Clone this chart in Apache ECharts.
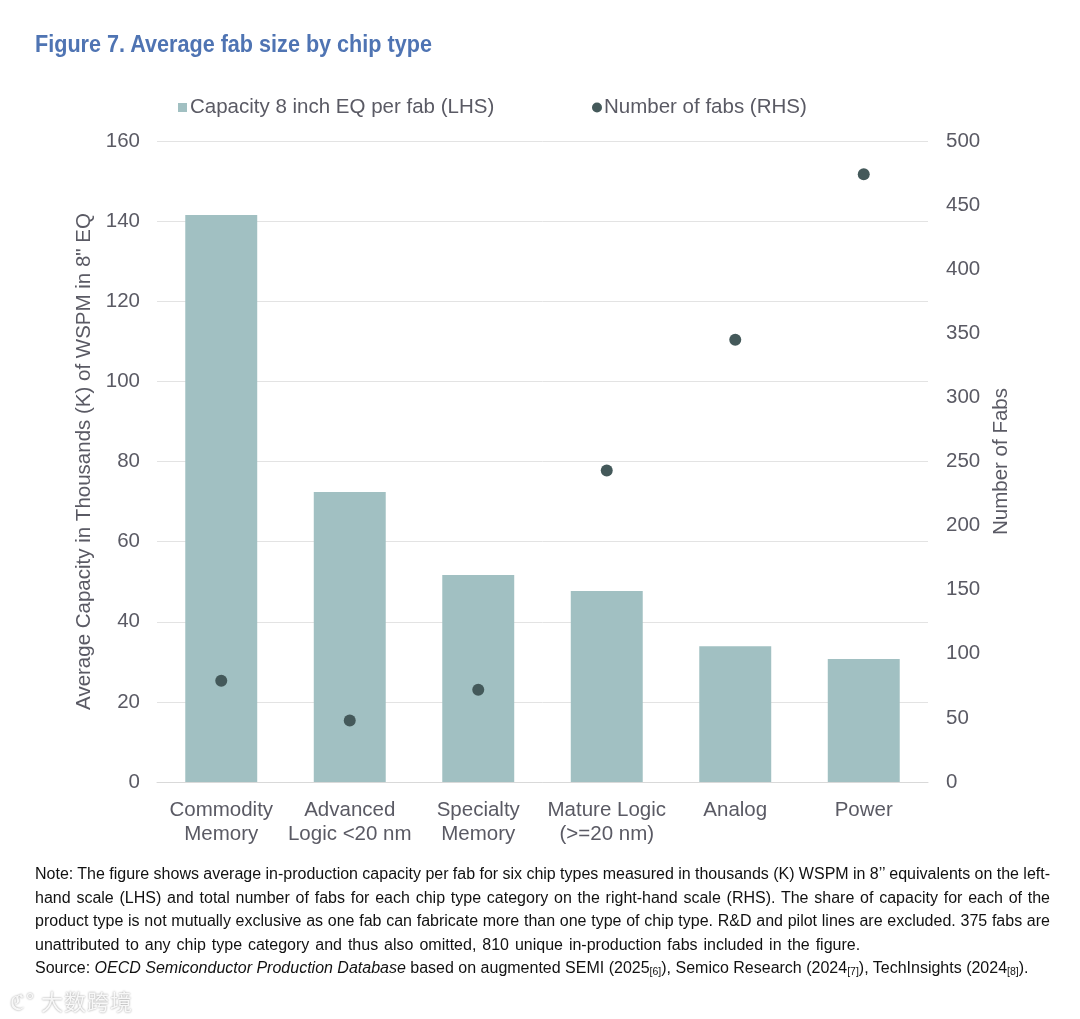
<!DOCTYPE html>
<html>
<head>
<meta charset="utf-8">
<script src="https://cdn.jsdelivr.net/npm/echarts@6/dist/echarts.min.js"></script>
<style>
html,body{margin:0;padding:0;background:#fff;}
#chart{position:absolute;left:0;top:0;width:1080px;height:1019px;}
#title{position:absolute;left:35px;top:30px;font-family:"Liberation Sans",Arial,sans-serif;font-weight:bold;font-size:24px;color:#4f74b3;transform:scaleX(0.9);transform-origin:left top;white-space:nowrap;}
#note{position:absolute;left:35px;top:862px;width:1015px;font-family:"Liberation Sans",Arial,sans-serif;font-size:16px;line-height:23.5px;color:#111;}
#note div{text-align:justify;text-align-last:justify;white-space:nowrap;}
#note div.tight{word-spacing:-1.5px;}
#note div.last{text-align-last:left;}
#note div.wide{word-spacing:1.5px;}
#note sub{font-size:10.5px;vertical-align:-2px;line-height:0;}
#wm{position:absolute;left:10px;top:984px;font-family:"Noto Sans CJK SC",sans-serif;font-size:22px;color:rgba(255,255,255,0.9);text-shadow:0 0 2px rgba(0,0,0,0.45);letter-spacing:1px;}
</style>
</head>
<body>
<div id="chart"></div>
<div id="title">Figure 7. Average fab size by chip type</div>
<div id="note">
<div class="tight">Note: The figure shows average in-production capacity per fab for six chip types measured in thousands (K) WSPM in 8’’ equivalents on the left-</div>
<div class="tight">hand scale (LHS) and total number of fabs for each chip type category on the right-hand scale (RHS). The share of capacity for each of the</div>
<div class="tight">product type is not mutually exclusive as one fab can fabricate more than one type of chip type. R&amp;D and pilot lines are excluded. 375 fabs are</div>
<div class="last wide">unattributed to any chip type category and thus also omitted, 810 unique in-production fabs included in the figure.</div>
<div class="last">Source: <i>OECD Semiconductor Production Database</i> based on augmented SEMI (2025<sub>[6]</sub>), Semico Research (2024<sub>[7]</sub>), TechInsights (2024<sub>[8]</sub>).</div>
</div>
<div id="wm">ℭ° 大数跨境</div>
<script>
const categories = ["Commodity\nMemory", "Advanced\nLogic <20 nm", "Specialty\nMemory", "Mature Logic\n(>=20 nm)", "Analog", "Power"];
const capacityPerFab = [141.5, 72.4, 51.7, 47.7, 33.9, 30.7];
const numberOfFabs = [79, 48, 72, 243, 345, 474];
const leftTicks = { min: 0, max: 160, interval: 20 };
const rightTicks = { min: 0, max: 500, interval: 50 };

const font = '"Liberation Sans", Arial, sans-serif';
const grey = '#5a5a64';
const fs = 20.5;
const chart = echarts.init(document.getElementById('chart'));
chart.setOption({
  animation: false,
  legend: [
    { data: [{ name: 'Capacity 8 inch EQ per fab (LHS)', icon: 'rect' }], left: 173, top: 92, itemWidth: 9, itemHeight: 9, itemGap: 4,
      textStyle: { fontFamily: font, fontSize: fs, color: grey, padding: [0, 0, 0, -2] } },
    { data: [{ name: 'Number of fabs (RHS)', icon: 'circle' }], left: 587, top: 92, itemWidth: 10, itemHeight: 10,
      textStyle: { fontFamily: font, fontSize: fs, color: grey, padding: [0, 0, 0, -3] } }
  ],
  grid: { left: 157, right: 152, top: 141, bottom: 237, containLabel: false },
  xAxis: {
    type: 'category', data: categories,
    axisLine: { show: true, lineStyle: { color: '#d9d9d9', width: 1 } },
    axisTick: { show: false },
    axisLabel: { fontFamily: font, fontSize: fs, color: grey, margin: 16, lineHeight: 24, interval: 0 }
  },
  yAxis: [
    { type: 'value', min: leftTicks.min, max: leftTicks.max, interval: leftTicks.interval,
      name: 'Average Capacity in Thousands (K) of WSPM in 8" EQ', nameLocation: 'middle', nameGap: 48, nameRotate: 90,
      nameTextStyle: { fontFamily: font, fontSize: fs, color: grey },
      axisLine: { show: false }, axisTick: { show: false },
      axisLabel: { fontFamily: font, fontSize: fs, color: grey, margin: 17 },
      splitLine: { lineStyle: { color: '#e3e3e3', width: 1 } } },
    { type: 'value', min: rightTicks.min, max: rightTicks.max, interval: rightTicks.interval, position: 'right',
      name: 'Number of Fabs', nameLocation: 'middle', nameGap: 60, nameRotate: 90,
      nameTextStyle: { fontFamily: font, fontSize: fs, color: grey },
      axisLine: { show: false }, axisTick: { show: false },
      axisLabel: { fontFamily: font, fontSize: fs, color: grey, margin: 18 },
      splitLine: { show: false } }
  ],
  series: [
    { name: 'Capacity 8 inch EQ per fab (LHS)', type: 'bar', yAxisIndex: 0, data: capacityPerFab, barWidth: '56%',
      itemStyle: { color: '#a1c0c2' } },
    { name: 'Number of fabs (RHS)', type: 'scatter', yAxisIndex: 1, data: numberOfFabs, symbol: 'circle', symbolSize: 12,
      itemStyle: { color: '#44595a', opacity: 1 } }
  ]
});
</script>
</body>
</html>
